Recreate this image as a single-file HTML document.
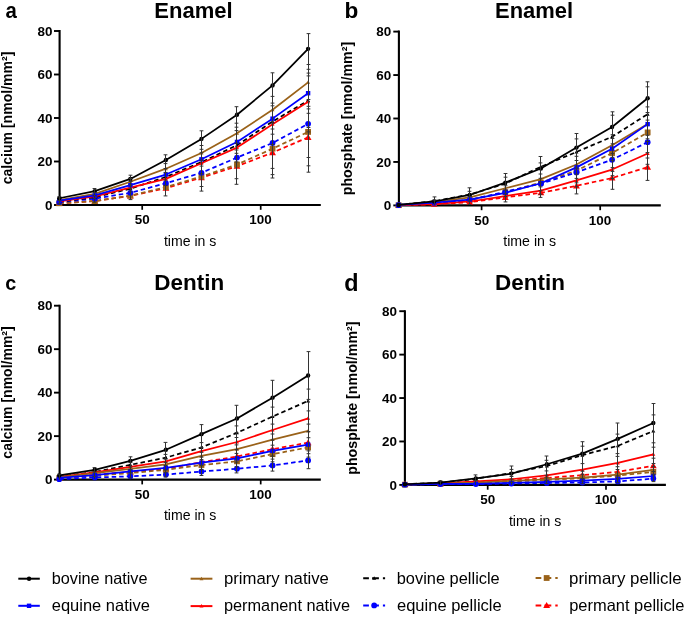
<!DOCTYPE html><html><head><meta charset="utf-8"><style>html,body{margin:0;padding:0;background:#fff;width:685px;height:617px;overflow:hidden}svg{display:block;will-change:transform}text{font-family:"Liberation Sans",sans-serif}</style></head><body><svg width="685" height="617" viewBox="0 0 685 617" font-family="Liberation Sans, sans-serif">
<rect width="685" height="617" fill="#fff"/>
<path d="M59.60,30.00V205.00H320.80" stroke="#000" stroke-width="2.1" fill="none"/>
<path d="M54.00,205.00H59.60" stroke="#000" stroke-width="1.9"/>
<text transform="translate(44.94,209.75) scale(1.0760,1)" font-size="12.50" font-weight="bold" fill="#000">0</text>
<path d="M54.00,161.50H59.60" stroke="#000" stroke-width="1.9"/>
<text transform="translate(37.41,166.25) scale(1.0760,1)" font-size="12.50" font-weight="bold" fill="#000">20</text>
<path d="M54.00,118.00H59.60" stroke="#000" stroke-width="1.9"/>
<text transform="translate(37.41,122.75) scale(1.0760,1)" font-size="12.50" font-weight="bold" fill="#000">40</text>
<path d="M54.00,74.50H59.60" stroke="#000" stroke-width="1.9"/>
<text transform="translate(37.41,79.25) scale(1.0760,1)" font-size="12.50" font-weight="bold" fill="#000">60</text>
<path d="M54.00,31.00H59.60" stroke="#000" stroke-width="1.9"/>
<text transform="translate(37.41,35.75) scale(1.0760,1)" font-size="12.50" font-weight="bold" fill="#000">80</text>
<path d="M142.20,205.00V209.80" stroke="#000" stroke-width="1.7"/>
<text transform="translate(134.80,224.30) scale(1.0579,1)" font-size="12.71" font-weight="bold" fill="#000">50</text>
<path d="M260.70,205.00V209.80" stroke="#000" stroke-width="1.7"/>
<text transform="translate(249.33,224.30) scale(1.0579,1)" font-size="12.71" font-weight="bold" fill="#000">100</text>
<polyline points="59.25,203.26 94.80,201.09 130.35,195.87 165.90,188.25 201.45,177.59 237.00,166.28 272.55,152.58 308.10,137.36" fill="none" stroke="#FF0000" stroke-width="1.75" stroke-linejoin="round" stroke-dasharray="4.5 3"/>
<path d="M59.25,199.85 L62.66,205.82 L55.84,205.82Z" fill="#FF0000"/>
<path d="M94.80,197.68 L98.21,203.64 L91.39,203.64Z" fill="#FF0000"/>
<path d="M130.35,192.46 L133.76,198.42 L126.94,198.42Z" fill="#FF0000"/>
<path d="M165.90,184.84 L169.31,190.81 L162.49,190.81Z" fill="#FF0000"/>
<path d="M201.45,174.19 L204.86,180.15 L198.04,180.15Z" fill="#FF0000"/>
<path d="M237.00,162.88 L240.41,168.84 L233.59,168.84Z" fill="#FF0000"/>
<path d="M272.55,149.17 L275.96,155.14 L269.14,155.14Z" fill="#FF0000"/>
<path d="M308.10,133.95 L311.51,139.92 L304.69,139.92Z" fill="#FF0000"/>
<polyline points="59.25,203.26 94.80,201.09 130.35,195.65 165.90,187.16 201.45,176.51 237.00,164.55 272.55,148.67 308.10,131.92" fill="none" stroke="#9A6219" stroke-width="1.75" stroke-linejoin="round" stroke-dasharray="4.5 3"/>
<rect x="56.35" y="200.36" width="5.80" height="5.80" fill="#9A6219"/>
<rect x="91.90" y="198.19" width="5.80" height="5.80" fill="#9A6219"/>
<rect x="127.45" y="192.75" width="5.80" height="5.80" fill="#9A6219"/>
<rect x="163.00" y="184.26" width="5.80" height="5.80" fill="#9A6219"/>
<rect x="198.55" y="173.61" width="5.80" height="5.80" fill="#9A6219"/>
<rect x="234.10" y="161.65" width="5.80" height="5.80" fill="#9A6219"/>
<rect x="269.65" y="145.77" width="5.80" height="5.80" fill="#9A6219"/>
<rect x="305.20" y="129.02" width="5.80" height="5.80" fill="#9A6219"/>
<polyline points="59.25,202.17 94.80,198.69 130.35,192.82 165.90,183.25 201.45,172.81 237.00,157.59 272.55,143.01 308.10,123.87" fill="none" stroke="#0000FF" stroke-width="1.75" stroke-linejoin="round" stroke-dasharray="4.5 3"/>
<circle cx="59.25" cy="202.17" r="2.90" fill="#0000FF"/>
<circle cx="94.80" cy="198.69" r="2.90" fill="#0000FF"/>
<circle cx="130.35" cy="192.82" r="2.90" fill="#0000FF"/>
<circle cx="165.90" cy="183.25" r="2.90" fill="#0000FF"/>
<circle cx="201.45" cy="172.81" r="2.90" fill="#0000FF"/>
<circle cx="237.00" cy="157.59" r="2.90" fill="#0000FF"/>
<circle cx="272.55" cy="143.01" r="2.90" fill="#0000FF"/>
<circle cx="308.10" cy="123.87" r="2.90" fill="#0000FF"/>
<polyline points="59.25,201.74 94.80,197.17 130.35,188.69 165.90,176.94 201.45,162.15 237.00,145.19 272.55,121.48 308.10,100.60" fill="none" stroke="#000000" stroke-width="1.75" stroke-linejoin="round" stroke-dasharray="4.5 3"/>
<path d="M59.25,199.76 L61.23,203.22 L57.27,203.22Z" fill="#000000"/>
<path d="M94.80,195.19 L96.78,198.66 L92.82,198.66Z" fill="#000000"/>
<path d="M130.35,186.71 L132.33,190.17 L128.37,190.17Z" fill="#000000"/>
<path d="M165.90,174.96 L167.88,178.43 L163.92,178.43Z" fill="#000000"/>
<path d="M201.45,160.17 L203.43,163.64 L199.47,163.64Z" fill="#000000"/>
<path d="M237.00,143.21 L238.98,146.67 L235.02,146.67Z" fill="#000000"/>
<path d="M272.55,119.50 L274.53,122.97 L270.57,122.97Z" fill="#000000"/>
<path d="M308.10,98.62 L310.08,102.09 L306.12,102.09Z" fill="#000000"/>
<polyline points="59.25,201.30 94.80,196.30 130.35,187.60 165.90,178.90 201.45,163.24 237.00,147.58 272.55,124.31 308.10,101.69" fill="none" stroke="#FF0000" stroke-width="1.75" stroke-linejoin="round"/>
<path d="M59.25,199.32 L61.23,202.79 L57.27,202.79Z" fill="#FF0000"/>
<path d="M94.80,194.32 L96.78,197.79 L92.82,197.79Z" fill="#FF0000"/>
<path d="M130.35,185.62 L132.33,189.09 L128.37,189.09Z" fill="#FF0000"/>
<path d="M165.90,176.92 L167.88,180.39 L163.92,180.39Z" fill="#FF0000"/>
<path d="M201.45,161.26 L203.43,164.73 L199.47,164.73Z" fill="#FF0000"/>
<path d="M237.00,145.60 L238.98,149.07 L235.02,149.07Z" fill="#FF0000"/>
<path d="M272.55,122.33 L274.53,125.79 L270.57,125.79Z" fill="#FF0000"/>
<path d="M308.10,99.71 L310.08,103.17 L306.12,103.17Z" fill="#FF0000"/>
<polyline points="59.25,200.22 94.80,193.91 130.35,181.73 165.90,168.68 201.45,153.02 237.00,133.23 272.55,109.74 308.10,82.33" fill="none" stroke="#9A6219" stroke-width="1.75" stroke-linejoin="round"/>
<path d="M59.25,198.24 L61.23,201.70 L57.27,201.70Z" fill="#9A6219"/>
<path d="M94.80,191.93 L96.78,195.39 L92.82,195.39Z" fill="#9A6219"/>
<path d="M130.35,179.75 L132.33,183.21 L128.37,183.21Z" fill="#9A6219"/>
<path d="M165.90,166.70 L167.88,170.16 L163.92,170.16Z" fill="#9A6219"/>
<path d="M201.45,151.04 L203.43,154.50 L199.47,154.50Z" fill="#9A6219"/>
<path d="M237.00,131.25 L238.98,134.71 L235.02,134.71Z" fill="#9A6219"/>
<path d="M272.55,107.76 L274.53,111.22 L270.57,111.22Z" fill="#9A6219"/>
<path d="M308.10,80.35 L310.08,83.82 L306.12,83.82Z" fill="#9A6219"/>
<polyline points="59.25,200.65 94.80,195.43 130.35,185.21 165.90,174.55 201.45,159.32 237.00,141.93 272.55,118.65 308.10,93.21" fill="none" stroke="#0000FF" stroke-width="1.75" stroke-linejoin="round"/>
<rect x="57.05" y="198.45" width="4.40" height="4.40" fill="#0000FF"/>
<rect x="92.60" y="193.23" width="4.40" height="4.40" fill="#0000FF"/>
<rect x="128.15" y="183.01" width="4.40" height="4.40" fill="#0000FF"/>
<rect x="163.70" y="172.35" width="4.40" height="4.40" fill="#0000FF"/>
<rect x="199.25" y="157.12" width="4.40" height="4.40" fill="#0000FF"/>
<rect x="234.80" y="139.73" width="4.40" height="4.40" fill="#0000FF"/>
<rect x="270.35" y="116.45" width="4.40" height="4.40" fill="#0000FF"/>
<rect x="305.90" y="91.01" width="4.40" height="4.40" fill="#0000FF"/>
<polyline points="59.25,198.26 94.80,191.08 130.35,178.90 165.90,159.98 201.45,138.88 237.00,114.74 272.55,85.38 308.10,48.84" fill="none" stroke="#000000" stroke-width="1.75" stroke-linejoin="round"/>
<circle cx="59.25" cy="198.26" r="2.20" fill="#000000"/>
<circle cx="94.80" cy="191.08" r="2.20" fill="#000000"/>
<circle cx="130.35" cy="178.90" r="2.20" fill="#000000"/>
<circle cx="165.90" cy="159.98" r="2.20" fill="#000000"/>
<circle cx="201.45" cy="138.88" r="2.20" fill="#000000"/>
<circle cx="237.00" cy="114.74" r="2.20" fill="#000000"/>
<circle cx="272.55" cy="85.38" r="2.20" fill="#000000"/>
<circle cx="308.10" cy="48.84" r="2.20" fill="#000000"/>
<path d="M59.50,196.74V204.35M57.60,196.70h3.8M57.60,200.50h3.8M57.60,203.90h3.8" stroke="#333" stroke-width="1" fill="none"/>
<path d="M94.50,188.47V202.17M92.60,188.50h3.8M92.60,202.20h3.8M92.60,192.40h3.8M92.60,195.50h3.8M92.60,198.50h3.8" stroke="#333" stroke-width="1" fill="none"/>
<path d="M130.50,175.20V199.56M128.60,175.20h3.8M128.60,199.60h3.8M128.60,178.50h3.8M128.60,181.50h3.8M128.60,185.00h3.8M128.60,188.80h3.8M128.60,191.90h3.8" stroke="#333" stroke-width="1" fill="none"/>
<path d="M165.50,154.76V195.87M163.60,154.80h3.8M163.60,195.90h3.8M163.60,163.60h3.8M163.60,168.50h3.8M163.60,172.40h3.8M163.60,180.00h3.8M163.60,185.40h3.8" stroke="#333" stroke-width="1" fill="none"/>
<path d="M201.50,130.83V191.08M199.60,130.80h3.8M199.60,191.10h3.8M199.60,145.50h3.8M199.60,149.30h3.8M199.60,152.80h3.8M199.60,160.30h3.8M199.60,166.10h3.8M199.60,173.70h3.8M199.60,186.50h3.8" stroke="#333" stroke-width="1" fill="none"/>
<path d="M236.50,106.69V184.34M234.60,106.70h3.8M234.60,184.30h3.8M234.60,123.20h3.8M234.60,127.20h3.8M234.60,130.60h3.8M234.60,143.30h3.8M234.60,150.00h3.8M234.60,153.30h3.8M234.60,161.90h3.8M234.60,178.70h3.8" stroke="#333" stroke-width="1" fill="none"/>
<path d="M272.50,72.76V178.03M270.60,72.80h3.8M270.60,178.00h3.8M270.60,96.40h3.8M270.60,103.10h3.8M270.60,105.80h3.8M270.60,123.10h3.8M270.60,129.00h3.8M270.60,134.20h3.8M270.60,144.50h3.8M270.60,168.40h3.8M270.60,174.60h3.8" stroke="#333" stroke-width="1" fill="none"/>
<path d="M308.50,33.61V172.16M306.60,33.60h3.8M306.60,172.20h3.8M306.60,64.50h3.8M306.60,69.30h3.8M306.60,73.10h3.8M306.60,75.90h3.8M306.60,99.50h3.8M306.60,106.30h3.8M306.60,108.90h3.8M306.60,113.30h3.8M306.60,127.50h3.8M306.60,131.90h3.8M306.60,157.50h3.8M306.60,165.80h3.8" stroke="#333" stroke-width="1" fill="none"/>
<path d="M398.90,30.60V205.40H660.80" stroke="#000" stroke-width="2.1" fill="none"/>
<path d="M393.30,205.40H398.90" stroke="#000" stroke-width="1.9"/>
<text transform="translate(383.84,210.15) scale(1.0760,1)" font-size="12.50" font-weight="bold" fill="#000">0</text>
<path d="M393.30,161.95H398.90" stroke="#000" stroke-width="1.9"/>
<text transform="translate(376.31,166.70) scale(1.0760,1)" font-size="12.50" font-weight="bold" fill="#000">20</text>
<path d="M393.30,118.50H398.90" stroke="#000" stroke-width="1.9"/>
<text transform="translate(376.31,123.25) scale(1.0760,1)" font-size="12.50" font-weight="bold" fill="#000">40</text>
<path d="M393.30,75.05H398.90" stroke="#000" stroke-width="1.9"/>
<text transform="translate(376.31,79.80) scale(1.0760,1)" font-size="12.50" font-weight="bold" fill="#000">60</text>
<path d="M393.30,31.60H398.90" stroke="#000" stroke-width="1.9"/>
<text transform="translate(376.31,36.35) scale(1.0760,1)" font-size="12.50" font-weight="bold" fill="#000">80</text>
<path d="M481.60,205.40V210.20" stroke="#000" stroke-width="1.7"/>
<text transform="translate(474.20,224.70) scale(1.0579,1)" font-size="12.71" font-weight="bold" fill="#000">50</text>
<path d="M600.20,205.40V210.20" stroke="#000" stroke-width="1.7"/>
<text transform="translate(588.83,224.70) scale(1.0579,1)" font-size="12.71" font-weight="bold" fill="#000">100</text>
<polyline points="398.58,205.18 434.16,204.31 469.74,202.14 505.32,197.36 540.90,192.80 576.48,185.85 612.06,178.03 647.64,167.16" fill="none" stroke="#FF0000" stroke-width="1.75" stroke-linejoin="round" stroke-dasharray="4.5 3"/>
<path d="M398.58,201.77 L401.99,207.74 L395.17,207.74Z" fill="#FF0000"/>
<path d="M434.16,200.90 L437.57,206.87 L430.75,206.87Z" fill="#FF0000"/>
<path d="M469.74,198.73 L473.15,204.70 L466.33,204.70Z" fill="#FF0000"/>
<path d="M505.32,193.95 L508.73,199.92 L501.91,199.92Z" fill="#FF0000"/>
<path d="M540.90,189.39 L544.31,195.36 L537.49,195.36Z" fill="#FF0000"/>
<path d="M576.48,182.44 L579.89,188.41 L573.07,188.41Z" fill="#FF0000"/>
<path d="M612.06,174.62 L615.47,180.58 L608.65,180.58Z" fill="#FF0000"/>
<path d="M647.64,163.75 L651.05,169.72 L644.23,169.72Z" fill="#FF0000"/>
<polyline points="398.58,205.18 434.16,203.23 469.74,199.97 505.32,192.37 540.90,182.59 576.48,170.64 612.06,153.04 647.64,132.40" fill="none" stroke="#9A6219" stroke-width="1.75" stroke-linejoin="round" stroke-dasharray="4.5 3"/>
<rect x="395.68" y="202.28" width="5.80" height="5.80" fill="#9A6219"/>
<rect x="431.26" y="200.33" width="5.80" height="5.80" fill="#9A6219"/>
<rect x="466.84" y="197.07" width="5.80" height="5.80" fill="#9A6219"/>
<rect x="502.42" y="189.47" width="5.80" height="5.80" fill="#9A6219"/>
<rect x="538.00" y="179.69" width="5.80" height="5.80" fill="#9A6219"/>
<rect x="573.58" y="167.74" width="5.80" height="5.80" fill="#9A6219"/>
<rect x="609.16" y="150.14" width="5.80" height="5.80" fill="#9A6219"/>
<rect x="644.74" y="129.50" width="5.80" height="5.80" fill="#9A6219"/>
<polyline points="398.58,205.18 434.16,203.23 469.74,199.97 505.32,191.71 540.90,183.68 576.48,172.38 612.06,159.78 647.64,142.18" fill="none" stroke="#0000FF" stroke-width="1.75" stroke-linejoin="round" stroke-dasharray="4.5 3"/>
<circle cx="398.58" cy="205.18" r="2.90" fill="#0000FF"/>
<circle cx="434.16" cy="203.23" r="2.90" fill="#0000FF"/>
<circle cx="469.74" cy="199.97" r="2.90" fill="#0000FF"/>
<circle cx="505.32" cy="191.71" r="2.90" fill="#0000FF"/>
<circle cx="540.90" cy="183.68" r="2.90" fill="#0000FF"/>
<circle cx="576.48" cy="172.38" r="2.90" fill="#0000FF"/>
<circle cx="612.06" cy="159.78" r="2.90" fill="#0000FF"/>
<circle cx="647.64" cy="142.18" r="2.90" fill="#0000FF"/>
<polyline points="398.58,204.97 434.16,201.27 469.74,194.54 505.32,183.68 540.90,166.73 576.48,151.96 612.06,136.75 647.64,114.15" fill="none" stroke="#000000" stroke-width="1.75" stroke-linejoin="round" stroke-dasharray="4.5 3"/>
<path d="M398.58,202.99 L400.56,206.45 L396.60,206.45Z" fill="#000000"/>
<path d="M434.16,199.29 L436.14,202.76 L432.18,202.76Z" fill="#000000"/>
<path d="M469.74,192.56 L471.72,196.02 L467.76,196.02Z" fill="#000000"/>
<path d="M505.32,181.70 L507.30,185.16 L503.34,185.16Z" fill="#000000"/>
<path d="M540.90,164.75 L542.88,168.21 L538.92,168.21Z" fill="#000000"/>
<path d="M576.48,149.98 L578.46,153.44 L574.50,153.44Z" fill="#000000"/>
<path d="M612.06,134.77 L614.04,138.23 L610.08,138.23Z" fill="#000000"/>
<path d="M647.64,112.17 L649.62,115.64 L645.66,115.64Z" fill="#000000"/>
<polyline points="398.58,205.18 434.16,204.10 469.74,201.49 505.32,196.06 540.90,190.63 576.48,180.42 612.06,169.55 647.64,153.48" fill="none" stroke="#FF0000" stroke-width="1.75" stroke-linejoin="round"/>
<path d="M398.58,203.20 L400.56,206.67 L396.60,206.67Z" fill="#FF0000"/>
<path d="M434.16,202.12 L436.14,205.58 L432.18,205.58Z" fill="#FF0000"/>
<path d="M469.74,199.51 L471.72,202.97 L467.76,202.97Z" fill="#FF0000"/>
<path d="M505.32,194.08 L507.30,197.54 L503.34,197.54Z" fill="#FF0000"/>
<path d="M540.90,188.65 L542.88,192.11 L538.92,192.11Z" fill="#FF0000"/>
<path d="M576.48,178.44 L578.46,181.90 L574.50,181.90Z" fill="#FF0000"/>
<path d="M612.06,167.57 L614.04,171.04 L610.08,171.04Z" fill="#FF0000"/>
<path d="M647.64,151.50 L649.62,154.96 L645.66,154.96Z" fill="#FF0000"/>
<polyline points="398.58,204.97 434.16,202.14 469.74,197.36 505.32,188.24 540.90,179.11 576.48,164.56 612.06,145.22 647.64,123.93" fill="none" stroke="#9A6219" stroke-width="1.75" stroke-linejoin="round"/>
<path d="M398.58,202.99 L400.56,206.45 L396.60,206.45Z" fill="#9A6219"/>
<path d="M434.16,200.16 L436.14,203.63 L432.18,203.63Z" fill="#9A6219"/>
<path d="M469.74,195.38 L471.72,198.85 L467.76,198.85Z" fill="#9A6219"/>
<path d="M505.32,186.26 L507.30,189.72 L503.34,189.72Z" fill="#9A6219"/>
<path d="M540.90,177.13 L542.88,180.60 L538.92,180.60Z" fill="#9A6219"/>
<path d="M576.48,162.58 L578.46,166.04 L574.50,166.04Z" fill="#9A6219"/>
<path d="M612.06,143.24 L614.04,146.71 L610.08,146.71Z" fill="#9A6219"/>
<path d="M647.64,121.95 L649.62,125.42 L645.66,125.42Z" fill="#9A6219"/>
<polyline points="398.58,204.97 434.16,202.58 469.74,199.53 505.32,192.80 540.90,183.24 576.48,167.38 612.06,148.70 647.64,124.15" fill="none" stroke="#0000FF" stroke-width="1.75" stroke-linejoin="round"/>
<rect x="396.38" y="202.77" width="4.40" height="4.40" fill="#0000FF"/>
<rect x="431.96" y="200.38" width="4.40" height="4.40" fill="#0000FF"/>
<rect x="467.54" y="197.33" width="4.40" height="4.40" fill="#0000FF"/>
<rect x="503.12" y="190.60" width="4.40" height="4.40" fill="#0000FF"/>
<rect x="538.70" y="181.04" width="4.40" height="4.40" fill="#0000FF"/>
<rect x="574.28" y="165.18" width="4.40" height="4.40" fill="#0000FF"/>
<rect x="609.86" y="146.50" width="4.40" height="4.40" fill="#0000FF"/>
<rect x="645.44" y="121.95" width="4.40" height="4.40" fill="#0000FF"/>
<polyline points="398.58,204.97 434.16,201.49 469.74,194.97 505.32,182.59 540.90,168.47 576.48,147.61 612.06,126.97 647.64,98.30" fill="none" stroke="#000000" stroke-width="1.75" stroke-linejoin="round"/>
<circle cx="398.58" cy="204.97" r="2.20" fill="#000000"/>
<circle cx="434.16" cy="201.49" r="2.20" fill="#000000"/>
<circle cx="469.74" cy="194.97" r="2.20" fill="#000000"/>
<circle cx="505.32" cy="182.59" r="2.20" fill="#000000"/>
<circle cx="540.90" cy="168.47" r="2.20" fill="#000000"/>
<circle cx="576.48" cy="147.61" r="2.20" fill="#000000"/>
<circle cx="612.06" cy="126.97" r="2.20" fill="#000000"/>
<circle cx="647.64" cy="98.30" r="2.20" fill="#000000"/>
<path d="M434.50,196.93V205.40M432.60,196.90h3.8M432.60,200.00h3.8" stroke="#333" stroke-width="1" fill="none"/>
<path d="M469.50,187.80V204.53M467.60,187.80h3.8M467.60,204.50h3.8M467.60,191.30h3.8M467.60,196.50h3.8M467.60,200.90h3.8" stroke="#333" stroke-width="1" fill="none"/>
<path d="M505.50,173.46V201.92M503.60,173.50h3.8M503.60,201.90h3.8M503.60,177.20h3.8M503.60,185.80h3.8M503.60,190.20h3.8M503.60,193.70h3.8M503.60,196.50h3.8" stroke="#333" stroke-width="1" fill="none"/>
<path d="M540.50,156.52V197.36M538.60,156.50h3.8M538.60,197.40h3.8M538.60,162.90h3.8M538.60,174.00h3.8M538.60,178.30h3.8M538.60,182.80h3.8M538.60,186.90h3.8M538.60,190.60h3.8M538.60,194.30h3.8" stroke="#333" stroke-width="1" fill="none"/>
<path d="M576.50,133.49V193.89M574.60,133.50h3.8M574.60,193.90h3.8M574.60,138.90h3.8M574.60,156.30h3.8M574.60,160.50h3.8M574.60,168.00h3.8M574.60,174.20h3.8M574.60,178.40h3.8M574.60,182.80h3.8M574.60,186.70h3.8" stroke="#333" stroke-width="1" fill="none"/>
<path d="M612.50,111.77V189.32M610.60,111.80h3.8M610.60,189.30h3.8M610.60,115.20h3.8M610.60,134.70h3.8M610.60,138.50h3.8M610.60,143.80h3.8M610.60,153.60h3.8M610.60,157.30h3.8M610.60,160.60h3.8M610.60,167.60h3.8M610.60,171.40h3.8M610.60,175.70h3.8M610.60,178.50h3.8" stroke="#333" stroke-width="1" fill="none"/>
<path d="M647.50,81.78V180.42M645.60,81.80h3.8M645.60,180.40h3.8M645.60,86.80h3.8M645.60,106.90h3.8M645.60,112.50h3.8M645.60,120.10h3.8M645.60,135.30h3.8M645.60,138.80h3.8M645.60,141.50h3.8M645.60,152.60h3.8M645.60,158.00h3.8M645.60,164.30h3.8" stroke="#333" stroke-width="1" fill="none"/>
<path d="M59.60,304.70V479.60H320.80" stroke="#000" stroke-width="2.1" fill="none"/>
<path d="M54.00,479.60H59.60" stroke="#000" stroke-width="1.9"/>
<text transform="translate(44.94,484.35) scale(1.0760,1)" font-size="12.50" font-weight="bold" fill="#000">0</text>
<path d="M54.00,436.12H59.60" stroke="#000" stroke-width="1.9"/>
<text transform="translate(37.41,440.88) scale(1.0760,1)" font-size="12.50" font-weight="bold" fill="#000">20</text>
<path d="M54.00,392.65H59.60" stroke="#000" stroke-width="1.9"/>
<text transform="translate(37.41,397.40) scale(1.0760,1)" font-size="12.50" font-weight="bold" fill="#000">40</text>
<path d="M54.00,349.17H59.60" stroke="#000" stroke-width="1.9"/>
<text transform="translate(37.41,353.92) scale(1.0760,1)" font-size="12.50" font-weight="bold" fill="#000">60</text>
<path d="M54.00,305.70H59.60" stroke="#000" stroke-width="1.9"/>
<text transform="translate(37.41,310.45) scale(1.0760,1)" font-size="12.50" font-weight="bold" fill="#000">80</text>
<path d="M142.20,479.60V484.40" stroke="#000" stroke-width="1.7"/>
<text transform="translate(134.80,498.90) scale(1.0579,1)" font-size="12.71" font-weight="bold" fill="#000">50</text>
<path d="M260.70,479.60V484.40" stroke="#000" stroke-width="1.7"/>
<text transform="translate(249.33,498.90) scale(1.0579,1)" font-size="12.71" font-weight="bold" fill="#000">100</text>
<polyline points="59.25,477.86 94.80,474.82 130.35,471.99 165.90,468.73 201.45,462.21 237.00,456.56 272.55,449.17 308.10,442.65" fill="none" stroke="#FF0000" stroke-width="1.75" stroke-linejoin="round" stroke-dasharray="4.5 3"/>
<path d="M59.25,474.45 L62.66,480.42 L55.84,480.42Z" fill="#FF0000"/>
<path d="M94.80,471.41 L98.21,477.38 L91.39,477.38Z" fill="#FF0000"/>
<path d="M130.35,468.58 L133.76,474.55 L126.94,474.55Z" fill="#FF0000"/>
<path d="M165.90,465.32 L169.31,471.29 L162.49,471.29Z" fill="#FF0000"/>
<path d="M201.45,458.80 L204.86,464.77 L198.04,464.77Z" fill="#FF0000"/>
<path d="M237.00,453.15 L240.41,459.12 L233.59,459.12Z" fill="#FF0000"/>
<path d="M272.55,445.76 L275.96,451.73 L269.14,451.73Z" fill="#FF0000"/>
<path d="M308.10,439.24 L311.51,445.20 L304.69,445.20Z" fill="#FF0000"/>
<polyline points="59.25,478.08 94.80,475.69 130.35,473.08 165.90,469.82 201.45,465.04 237.00,461.34 272.55,454.17 308.10,447.43" fill="none" stroke="#9A6219" stroke-width="1.75" stroke-linejoin="round" stroke-dasharray="4.5 3"/>
<rect x="56.35" y="475.18" width="5.80" height="5.80" fill="#9A6219"/>
<rect x="91.90" y="472.79" width="5.80" height="5.80" fill="#9A6219"/>
<rect x="127.45" y="470.18" width="5.80" height="5.80" fill="#9A6219"/>
<rect x="163.00" y="466.92" width="5.80" height="5.80" fill="#9A6219"/>
<rect x="198.55" y="462.14" width="5.80" height="5.80" fill="#9A6219"/>
<rect x="234.10" y="458.44" width="5.80" height="5.80" fill="#9A6219"/>
<rect x="269.65" y="451.27" width="5.80" height="5.80" fill="#9A6219"/>
<rect x="305.20" y="444.53" width="5.80" height="5.80" fill="#9A6219"/>
<polyline points="59.25,479.17 94.80,477.43 130.35,476.34 165.90,474.60 201.45,471.56 237.00,468.73 272.55,465.47 308.10,460.47" fill="none" stroke="#0000FF" stroke-width="1.75" stroke-linejoin="round" stroke-dasharray="4.5 3"/>
<circle cx="59.25" cy="479.17" r="2.90" fill="#0000FF"/>
<circle cx="94.80" cy="477.43" r="2.90" fill="#0000FF"/>
<circle cx="130.35" cy="476.34" r="2.90" fill="#0000FF"/>
<circle cx="165.90" cy="474.60" r="2.90" fill="#0000FF"/>
<circle cx="201.45" cy="471.56" r="2.90" fill="#0000FF"/>
<circle cx="237.00" cy="468.73" r="2.90" fill="#0000FF"/>
<circle cx="272.55" cy="465.47" r="2.90" fill="#0000FF"/>
<circle cx="308.10" cy="460.47" r="2.90" fill="#0000FF"/>
<polyline points="59.25,476.77 94.80,471.99 130.35,464.82 165.90,457.65 201.45,447.43 237.00,432.86 272.55,416.56 308.10,400.91" fill="none" stroke="#000000" stroke-width="1.75" stroke-linejoin="round" stroke-dasharray="4.5 3"/>
<path d="M59.25,474.79 L61.23,478.26 L57.27,478.26Z" fill="#000000"/>
<path d="M94.80,470.01 L96.78,473.48 L92.82,473.48Z" fill="#000000"/>
<path d="M130.35,462.84 L132.33,466.30 L128.37,466.30Z" fill="#000000"/>
<path d="M165.90,455.67 L167.88,459.13 L163.92,459.13Z" fill="#000000"/>
<path d="M201.45,445.45 L203.43,448.91 L199.47,448.91Z" fill="#000000"/>
<path d="M237.00,430.88 L238.98,434.35 L235.02,434.35Z" fill="#000000"/>
<path d="M272.55,414.58 L274.53,418.05 L270.57,418.05Z" fill="#000000"/>
<path d="M308.10,398.93 L310.08,402.40 L306.12,402.40Z" fill="#000000"/>
<polyline points="59.25,476.99 94.80,472.43 130.35,466.77 165.90,461.34 201.45,451.12 237.00,441.99 272.55,430.04 308.10,418.30" fill="none" stroke="#FF0000" stroke-width="1.75" stroke-linejoin="round"/>
<path d="M59.25,475.01 L61.23,478.48 L57.27,478.48Z" fill="#FF0000"/>
<path d="M94.80,470.45 L96.78,473.91 L92.82,473.91Z" fill="#FF0000"/>
<path d="M130.35,464.79 L132.33,468.26 L128.37,468.26Z" fill="#FF0000"/>
<path d="M165.90,459.36 L167.88,462.83 L163.92,462.83Z" fill="#FF0000"/>
<path d="M201.45,449.14 L203.43,452.61 L199.47,452.61Z" fill="#FF0000"/>
<path d="M237.00,440.01 L238.98,443.48 L235.02,443.48Z" fill="#FF0000"/>
<path d="M272.55,428.06 L274.53,431.52 L270.57,431.52Z" fill="#FF0000"/>
<path d="M308.10,416.32 L310.08,419.79 L306.12,419.79Z" fill="#FF0000"/>
<polyline points="59.25,477.43 94.80,473.08 130.35,468.95 165.90,464.38 201.45,455.91 237.00,449.17 272.55,439.60 308.10,430.91" fill="none" stroke="#9A6219" stroke-width="1.75" stroke-linejoin="round"/>
<path d="M59.25,475.45 L61.23,478.91 L57.27,478.91Z" fill="#9A6219"/>
<path d="M94.80,471.10 L96.78,474.56 L92.82,474.56Z" fill="#9A6219"/>
<path d="M130.35,466.97 L132.33,470.43 L128.37,470.43Z" fill="#9A6219"/>
<path d="M165.90,462.40 L167.88,465.87 L163.92,465.87Z" fill="#9A6219"/>
<path d="M201.45,453.93 L203.43,457.39 L199.47,457.39Z" fill="#9A6219"/>
<path d="M237.00,447.19 L238.98,450.65 L235.02,450.65Z" fill="#9A6219"/>
<path d="M272.55,437.62 L274.53,441.09 L270.57,441.09Z" fill="#9A6219"/>
<path d="M308.10,428.93 L310.08,432.39 L306.12,432.39Z" fill="#9A6219"/>
<polyline points="59.25,477.86 94.80,475.04 130.35,471.34 165.90,467.86 201.45,462.64 237.00,458.30 272.55,450.91 308.10,444.60" fill="none" stroke="#0000FF" stroke-width="1.75" stroke-linejoin="round"/>
<rect x="57.05" y="475.66" width="4.40" height="4.40" fill="#0000FF"/>
<rect x="92.60" y="472.84" width="4.40" height="4.40" fill="#0000FF"/>
<rect x="128.15" y="469.14" width="4.40" height="4.40" fill="#0000FF"/>
<rect x="163.70" y="465.66" width="4.40" height="4.40" fill="#0000FF"/>
<rect x="199.25" y="460.44" width="4.40" height="4.40" fill="#0000FF"/>
<rect x="234.80" y="456.10" width="4.40" height="4.40" fill="#0000FF"/>
<rect x="270.35" y="448.71" width="4.40" height="4.40" fill="#0000FF"/>
<rect x="305.90" y="442.40" width="4.40" height="4.40" fill="#0000FF"/>
<polyline points="59.25,475.47 94.80,469.82 130.35,460.91 165.90,449.82 201.45,434.17 237.00,418.52 272.55,397.65 308.10,375.48" fill="none" stroke="#000000" stroke-width="1.75" stroke-linejoin="round"/>
<circle cx="59.25" cy="475.47" r="2.20" fill="#000000"/>
<circle cx="94.80" cy="469.82" r="2.20" fill="#000000"/>
<circle cx="130.35" cy="460.91" r="2.20" fill="#000000"/>
<circle cx="165.90" cy="449.82" r="2.20" fill="#000000"/>
<circle cx="201.45" cy="434.17" r="2.20" fill="#000000"/>
<circle cx="237.00" cy="418.52" r="2.20" fill="#000000"/>
<circle cx="272.55" cy="397.65" r="2.20" fill="#000000"/>
<circle cx="308.10" cy="375.48" r="2.20" fill="#000000"/>
<path d="M59.50,474.17V479.60M57.60,474.20h3.8" stroke="#333" stroke-width="1" fill="none"/>
<path d="M94.50,467.64V478.95M92.60,467.60h3.8M92.60,472.10h3.8M92.60,476.30h3.8" stroke="#333" stroke-width="1" fill="none"/>
<path d="M130.50,456.78V478.08M128.60,456.80h3.8M128.60,478.10h3.8M128.60,462.60h3.8M128.60,467.00h3.8M128.60,469.70h3.8M128.60,472.80h3.8" stroke="#333" stroke-width="1" fill="none"/>
<path d="M165.50,442.43V476.99M163.60,442.40h3.8M163.60,477.00h3.8M163.60,454.40h3.8M163.60,459.10h3.8M163.60,462.30h3.8M163.60,465.50h3.8M163.60,470.00h3.8M163.60,472.80h3.8" stroke="#333" stroke-width="1" fill="none"/>
<path d="M201.50,424.60V475.47M199.60,424.60h3.8M199.60,475.50h3.8M199.60,442.60h3.8M199.60,447.70h3.8M199.60,452.30h3.8M199.60,457.00h3.8M199.60,459.60h3.8M199.60,465.70h3.8M199.60,469.40h3.8" stroke="#333" stroke-width="1" fill="none"/>
<path d="M236.50,405.26V472.86M234.60,405.30h3.8M234.60,472.90h3.8M234.60,425.90h3.8M234.60,432.60h3.8M234.60,437.50h3.8M234.60,444.90h3.8M234.60,449.60h3.8M234.60,453.40h3.8M234.60,462.10h3.8M234.60,466.80h3.8" stroke="#333" stroke-width="1" fill="none"/>
<path d="M272.50,380.26V471.12M270.60,380.30h3.8M270.60,471.10h3.8M270.60,407.10h3.8M270.60,416.50h3.8M270.60,424.10h3.8M270.60,434.00h3.8M270.60,440.00h3.8M270.60,445.20h3.8M270.60,456.10h3.8M270.60,459.10h3.8M270.60,461.80h3.8" stroke="#333" stroke-width="1" fill="none"/>
<path d="M308.50,351.57V468.73M306.60,351.60h3.8M306.60,468.70h3.8M306.60,389.10h3.8M306.60,399.40h3.8M306.60,410.90h3.8M306.60,424.10h3.8M306.60,431.60h3.8M306.60,437.70h3.8M306.60,450.90h3.8M306.60,453.70h3.8M306.60,457.10h3.8" stroke="#333" stroke-width="1" fill="none"/>
<path d="M404.90,310.20V484.90H665.90" stroke="#000" stroke-width="2.1" fill="none"/>
<path d="M399.30,484.90H404.90" stroke="#000" stroke-width="1.9"/>
<text transform="translate(389.44,489.65) scale(1.0760,1)" font-size="12.50" font-weight="bold" fill="#000">0</text>
<path d="M399.30,441.47H404.90" stroke="#000" stroke-width="1.9"/>
<text transform="translate(381.91,446.22) scale(1.0760,1)" font-size="12.50" font-weight="bold" fill="#000">20</text>
<path d="M399.30,398.05H404.90" stroke="#000" stroke-width="1.9"/>
<text transform="translate(381.91,402.80) scale(1.0760,1)" font-size="12.50" font-weight="bold" fill="#000">40</text>
<path d="M399.30,354.62H404.90" stroke="#000" stroke-width="1.9"/>
<text transform="translate(381.91,359.38) scale(1.0760,1)" font-size="12.50" font-weight="bold" fill="#000">60</text>
<path d="M399.30,311.20H404.90" stroke="#000" stroke-width="1.9"/>
<text transform="translate(381.91,315.95) scale(1.0760,1)" font-size="12.50" font-weight="bold" fill="#000">80</text>
<path d="M487.70,484.90V489.70" stroke="#000" stroke-width="1.7"/>
<text transform="translate(480.30,504.20) scale(1.0579,1)" font-size="12.71" font-weight="bold" fill="#000">50</text>
<path d="M606.00,484.90V489.70" stroke="#000" stroke-width="1.7"/>
<text transform="translate(594.63,504.20) scale(1.0579,1)" font-size="12.71" font-weight="bold" fill="#000">100</text>
<polyline points="404.89,484.47 440.38,483.60 475.87,482.29 511.36,480.56 546.85,477.95 582.34,475.13 617.83,471.87 653.32,465.79" fill="none" stroke="#FF0000" stroke-width="1.75" stroke-linejoin="round" stroke-dasharray="4.5 3"/>
<path d="M404.89,481.06 L408.30,487.02 L401.48,487.02Z" fill="#FF0000"/>
<path d="M440.38,480.19 L443.79,486.15 L436.97,486.15Z" fill="#FF0000"/>
<path d="M475.87,478.88 L479.28,484.85 L472.46,484.85Z" fill="#FF0000"/>
<path d="M511.36,477.15 L514.77,483.12 L507.95,483.12Z" fill="#FF0000"/>
<path d="M546.85,474.54 L550.26,480.51 L543.44,480.51Z" fill="#FF0000"/>
<path d="M582.34,471.72 L585.75,477.69 L578.93,477.69Z" fill="#FF0000"/>
<path d="M617.83,468.46 L621.24,474.43 L614.42,474.43Z" fill="#FF0000"/>
<path d="M653.32,462.38 L656.73,468.35 L649.91,468.35Z" fill="#FF0000"/>
<polyline points="404.89,484.68 440.38,483.81 475.87,482.95 511.36,481.64 546.85,479.91 582.34,478.17 617.83,475.56 653.32,471.87" fill="none" stroke="#9A6219" stroke-width="1.75" stroke-linejoin="round" stroke-dasharray="4.5 3"/>
<rect x="401.99" y="481.78" width="5.80" height="5.80" fill="#9A6219"/>
<rect x="437.48" y="480.91" width="5.80" height="5.80" fill="#9A6219"/>
<rect x="472.97" y="480.05" width="5.80" height="5.80" fill="#9A6219"/>
<rect x="508.46" y="478.74" width="5.80" height="5.80" fill="#9A6219"/>
<rect x="543.95" y="477.01" width="5.80" height="5.80" fill="#9A6219"/>
<rect x="579.44" y="475.27" width="5.80" height="5.80" fill="#9A6219"/>
<rect x="614.93" y="472.66" width="5.80" height="5.80" fill="#9A6219"/>
<rect x="650.42" y="468.97" width="5.80" height="5.80" fill="#9A6219"/>
<polyline points="404.89,484.68 440.38,484.03 475.87,484.03 511.36,483.60 546.85,482.95 582.34,482.51 617.83,481.43 653.32,478.60" fill="none" stroke="#0000FF" stroke-width="1.75" stroke-linejoin="round" stroke-dasharray="4.5 3"/>
<circle cx="404.89" cy="484.68" r="2.90" fill="#0000FF"/>
<circle cx="440.38" cy="484.03" r="2.90" fill="#0000FF"/>
<circle cx="475.87" cy="484.03" r="2.90" fill="#0000FF"/>
<circle cx="511.36" cy="483.60" r="2.90" fill="#0000FF"/>
<circle cx="546.85" cy="482.95" r="2.90" fill="#0000FF"/>
<circle cx="582.34" cy="482.51" r="2.90" fill="#0000FF"/>
<circle cx="617.83" cy="481.43" r="2.90" fill="#0000FF"/>
<circle cx="653.32" cy="478.60" r="2.90" fill="#0000FF"/>
<polyline points="404.89,484.25 440.38,482.73 475.87,478.82 511.36,472.96 546.85,466.01 582.34,455.15 617.83,445.82 653.32,431.05" fill="none" stroke="#000000" stroke-width="1.75" stroke-linejoin="round" stroke-dasharray="4.5 3"/>
<path d="M404.89,482.27 L406.87,485.73 L402.91,485.73Z" fill="#000000"/>
<path d="M440.38,480.75 L442.36,484.21 L438.40,484.21Z" fill="#000000"/>
<path d="M475.87,476.84 L477.85,480.31 L473.89,480.31Z" fill="#000000"/>
<path d="M511.36,470.98 L513.34,474.44 L509.38,474.44Z" fill="#000000"/>
<path d="M546.85,464.03 L548.83,467.50 L544.87,467.50Z" fill="#000000"/>
<path d="M582.34,453.17 L584.32,456.64 L580.36,456.64Z" fill="#000000"/>
<path d="M617.83,443.84 L619.81,447.30 L615.85,447.30Z" fill="#000000"/>
<path d="M653.32,429.07 L655.30,432.54 L651.34,432.54Z" fill="#000000"/>
<polyline points="404.89,484.47 440.38,483.38 475.87,481.43 511.36,479.25 546.85,475.35 582.34,469.70 617.83,462.97 653.32,454.29" fill="none" stroke="#FF0000" stroke-width="1.75" stroke-linejoin="round"/>
<path d="M404.89,482.49 L406.87,485.95 L402.91,485.95Z" fill="#FF0000"/>
<path d="M440.38,481.40 L442.36,484.87 L438.40,484.87Z" fill="#FF0000"/>
<path d="M475.87,479.45 L477.85,482.91 L473.89,482.91Z" fill="#FF0000"/>
<path d="M511.36,477.27 L513.34,480.74 L509.38,480.74Z" fill="#FF0000"/>
<path d="M546.85,473.37 L548.83,476.83 L544.87,476.83Z" fill="#FF0000"/>
<path d="M582.34,467.72 L584.32,471.19 L580.36,471.19Z" fill="#FF0000"/>
<path d="M617.83,460.99 L619.81,464.46 L615.85,464.46Z" fill="#FF0000"/>
<path d="M653.32,452.31 L655.30,455.77 L651.34,455.77Z" fill="#FF0000"/>
<polyline points="404.89,484.68 440.38,483.60 475.87,482.73 511.36,480.77 546.85,479.25 582.34,477.52 617.83,474.70 653.32,469.92" fill="none" stroke="#9A6219" stroke-width="1.75" stroke-linejoin="round"/>
<path d="M404.89,482.70 L406.87,486.17 L402.91,486.17Z" fill="#9A6219"/>
<path d="M440.38,481.62 L442.36,485.08 L438.40,485.08Z" fill="#9A6219"/>
<path d="M475.87,480.75 L477.85,484.21 L473.89,484.21Z" fill="#9A6219"/>
<path d="M511.36,478.79 L513.34,482.26 L509.38,482.26Z" fill="#9A6219"/>
<path d="M546.85,477.27 L548.83,480.74 L544.87,480.74Z" fill="#9A6219"/>
<path d="M582.34,475.54 L584.32,479.00 L580.36,479.00Z" fill="#9A6219"/>
<path d="M617.83,472.72 L619.81,476.18 L615.85,476.18Z" fill="#9A6219"/>
<path d="M653.32,467.94 L655.30,471.40 L651.34,471.40Z" fill="#9A6219"/>
<polyline points="404.89,484.68 440.38,483.81 475.87,483.81 511.36,482.95 546.85,481.86 582.34,480.56 617.83,478.82 653.32,476.00" fill="none" stroke="#0000FF" stroke-width="1.75" stroke-linejoin="round"/>
<rect x="402.69" y="482.48" width="4.40" height="4.40" fill="#0000FF"/>
<rect x="438.18" y="481.61" width="4.40" height="4.40" fill="#0000FF"/>
<rect x="473.67" y="481.61" width="4.40" height="4.40" fill="#0000FF"/>
<rect x="509.16" y="480.75" width="4.40" height="4.40" fill="#0000FF"/>
<rect x="544.65" y="479.66" width="4.40" height="4.40" fill="#0000FF"/>
<rect x="580.14" y="478.36" width="4.40" height="4.40" fill="#0000FF"/>
<rect x="615.63" y="476.62" width="4.40" height="4.40" fill="#0000FF"/>
<rect x="651.12" y="473.80" width="4.40" height="4.40" fill="#0000FF"/>
<polyline points="404.89,484.25 440.38,482.51 475.87,478.39 511.36,473.61 546.85,464.27 582.34,453.63 617.83,438.87 653.32,423.02" fill="none" stroke="#000000" stroke-width="1.75" stroke-linejoin="round"/>
<circle cx="404.89" cy="484.25" r="2.20" fill="#000000"/>
<circle cx="440.38" cy="482.51" r="2.20" fill="#000000"/>
<circle cx="475.87" cy="478.39" r="2.20" fill="#000000"/>
<circle cx="511.36" cy="473.61" r="2.20" fill="#000000"/>
<circle cx="546.85" cy="464.27" r="2.20" fill="#000000"/>
<circle cx="582.34" cy="453.63" r="2.20" fill="#000000"/>
<circle cx="617.83" cy="438.87" r="2.20" fill="#000000"/>
<circle cx="653.32" cy="423.02" r="2.20" fill="#000000"/>
<path d="M440.50,480.99V484.90M438.60,481.00h3.8" stroke="#333" stroke-width="1" fill="none"/>
<path d="M475.50,474.91V484.90M473.60,474.90h3.8M473.60,480.50h3.8" stroke="#333" stroke-width="1" fill="none"/>
<path d="M511.50,466.01V484.90M509.60,466.00h3.8M509.60,469.40h3.8M509.60,476.50h3.8M509.60,479.10h3.8M509.60,482.30h3.8" stroke="#333" stroke-width="1" fill="none"/>
<path d="M546.50,456.02V484.25M544.60,456.00h3.8M544.60,460.30h3.8M544.60,470.90h3.8M544.60,475.20h3.8M544.60,477.90h3.8M544.60,480.70h3.8M544.60,483.40h3.8" stroke="#333" stroke-width="1" fill="none"/>
<path d="M582.50,441.69V483.81M580.60,441.70h3.8M580.60,483.80h3.8M580.60,446.20h3.8M580.60,463.60h3.8M580.60,471.20h3.8M580.60,474.30h3.8M580.60,478.40h3.8M580.60,481.10h3.8" stroke="#333" stroke-width="1" fill="none"/>
<path d="M617.50,423.02V482.73M615.60,423.00h3.8M615.60,482.70h3.8M615.60,434.10h3.8M615.60,453.60h3.8M615.60,456.40h3.8M615.60,466.70h3.8M615.60,469.50h3.8M615.60,475.80h3.8M615.60,478.80h3.8" stroke="#333" stroke-width="1" fill="none"/>
<path d="M653.50,403.48V481.64M651.60,403.50h3.8M651.60,481.60h3.8M651.60,414.90h3.8M651.60,442.80h3.8M651.60,447.20h3.8M651.60,458.20h3.8M651.60,463.50h3.8M651.60,466.70h3.8M651.60,471.50h3.8M651.60,474.80h3.8" stroke="#333" stroke-width="1" fill="none"/>
<text transform="translate(5.49,18.30) scale(0.9325,1)" font-size="21.85" font-weight="bold" fill="#000">a</text>
<text transform="translate(344.42,18.10) scale(0.9879,1)" font-size="22.88" font-weight="bold" fill="#000">b</text>
<text transform="translate(5.31,290.30) scale(0.9460,1)" font-size="20.93" font-weight="bold" fill="#000">c</text>
<text transform="translate(344.36,290.50) scale(0.9989,1)" font-size="23.42" font-weight="bold" fill="#000">d</text>
<text transform="translate(154.36,17.70) scale(0.9800,1)" font-size="22.47" font-weight="bold" fill="#000">Enamel</text>
<text transform="translate(495.06,17.70) scale(0.9774,1)" font-size="22.47" font-weight="bold" fill="#000">Enamel</text>
<text transform="translate(154.33,290.00) scale(1.0454,1)" font-size="21.51" font-weight="bold" fill="#000">Dentin</text>
<text transform="translate(495.03,290.00) scale(1.0454,1)" font-size="21.51" font-weight="bold" fill="#000">Dentin</text>
<text transform="translate(11.71,184.36) rotate(-90) scale(0.9866,1)" font-size="14.26" font-weight="bold" fill="#000">calcium [nmol/mm²]</text>
<text transform="translate(351.51,195.30) rotate(-90) scale(0.9992,1)" font-size="14.26" font-weight="bold" fill="#000">phosphate [nmol/mm²]</text>
<text transform="translate(11.76,458.66) rotate(-90) scale(0.9691,1)" font-size="14.47" font-weight="bold" fill="#000">calcium [nmol/mm²]</text>
<text transform="translate(357.15,474.80) rotate(-90) scale(1.0144,1)" font-size="14.04" font-weight="bold" fill="#000">phosphate [nmol/mm²]</text>
<text transform="translate(163.92,245.90) scale(0.9720,1)" font-size="14.52" font-weight="normal" fill="#000">time in s</text>
<text transform="translate(503.22,246.00) scale(0.9777,1)" font-size="14.52" font-weight="normal" fill="#000">time in s</text>
<text transform="translate(163.92,519.70) scale(0.9540,1)" font-size="14.79" font-weight="normal" fill="#000">time in s</text>
<text transform="translate(508.92,525.90) scale(0.9720,1)" font-size="14.52" font-weight="normal" fill="#000">time in s</text>
<path d="M18.3,578.7H39.8" stroke="#000000" stroke-width="2"/>
<circle cx="29.05" cy="578.70" r="2.20" fill="#000000"/>
<text transform="translate(51.66,583.70) scale(0.9988,1)" font-size="16.30" font-weight="normal" fill="#000">bovine native</text>
<path d="M18.3,605.8H39.8" stroke="#0000FF" stroke-width="2"/>
<rect x="26.85" y="603.60" width="4.40" height="4.40" fill="#0000FF"/>
<text transform="translate(51.74,611.20) scale(1.0124,1)" font-size="16.30" font-weight="normal" fill="#000">equine native</text>
<path d="M190.6,578.7H212.4" stroke="#9A6219" stroke-width="2"/>
<path d="M201.50,576.72 L203.48,580.19 L199.52,580.19Z" fill="#9A6219"/>
<text transform="translate(223.93,583.70) scale(1.0268,1)" font-size="16.30" font-weight="normal" fill="#000">primary native</text>
<path d="M190.6,606.1H212.4" stroke="#FF0000" stroke-width="2"/>
<path d="M201.50,604.12 L203.48,607.59 L199.52,607.59Z" fill="#FF0000"/>
<text transform="translate(223.96,611.20) scale(1.0013,1)" font-size="16.30" font-weight="normal" fill="#000">permanent native</text>
<path d="M363.2,578.2H385.1" stroke="#000000" stroke-width="2" stroke-dasharray="5.7 3.2 6.8 4"/>
<path d="M374.15,576.22 L376.13,579.69 L372.17,579.69Z" fill="#000000"/>
<text transform="translate(396.75,583.70) scale(1.0063,1)" font-size="16.30" font-weight="normal" fill="#000">bovine pellicle</text>
<path d="M363.2,605.4H385.1" stroke="#0000FF" stroke-width="2" stroke-dasharray="5.7 3.2 6.8 4"/>
<circle cx="374.15" cy="605.40" r="2.90" fill="#0000FF"/>
<text transform="translate(396.94,611.20) scale(1.0150,1)" font-size="16.30" font-weight="normal" fill="#000">equine pellicle</text>
<path d="M535.6,578.0H557.7" stroke="#9A6219" stroke-width="2" stroke-dasharray="5.7 3.2 6.8 4"/>
<rect x="543.75" y="575.10" width="5.80" height="5.80" fill="#9A6219"/>
<text transform="translate(569.12,583.70) scale(1.0359,1)" font-size="16.30" font-weight="normal" fill="#000">primary pellicle</text>
<path d="M535.6,605.4H557.7" stroke="#FF0000" stroke-width="2" stroke-dasharray="5.7 3.2 6.8 4"/>
<path d="M546.65,601.99 L550.06,607.96 L543.24,607.96Z" fill="#FF0000"/>
<text transform="translate(569.15,611.20) scale(1.0106,1)" font-size="16.30" font-weight="normal" fill="#000">permant pellicle</text>
</svg></body></html>
